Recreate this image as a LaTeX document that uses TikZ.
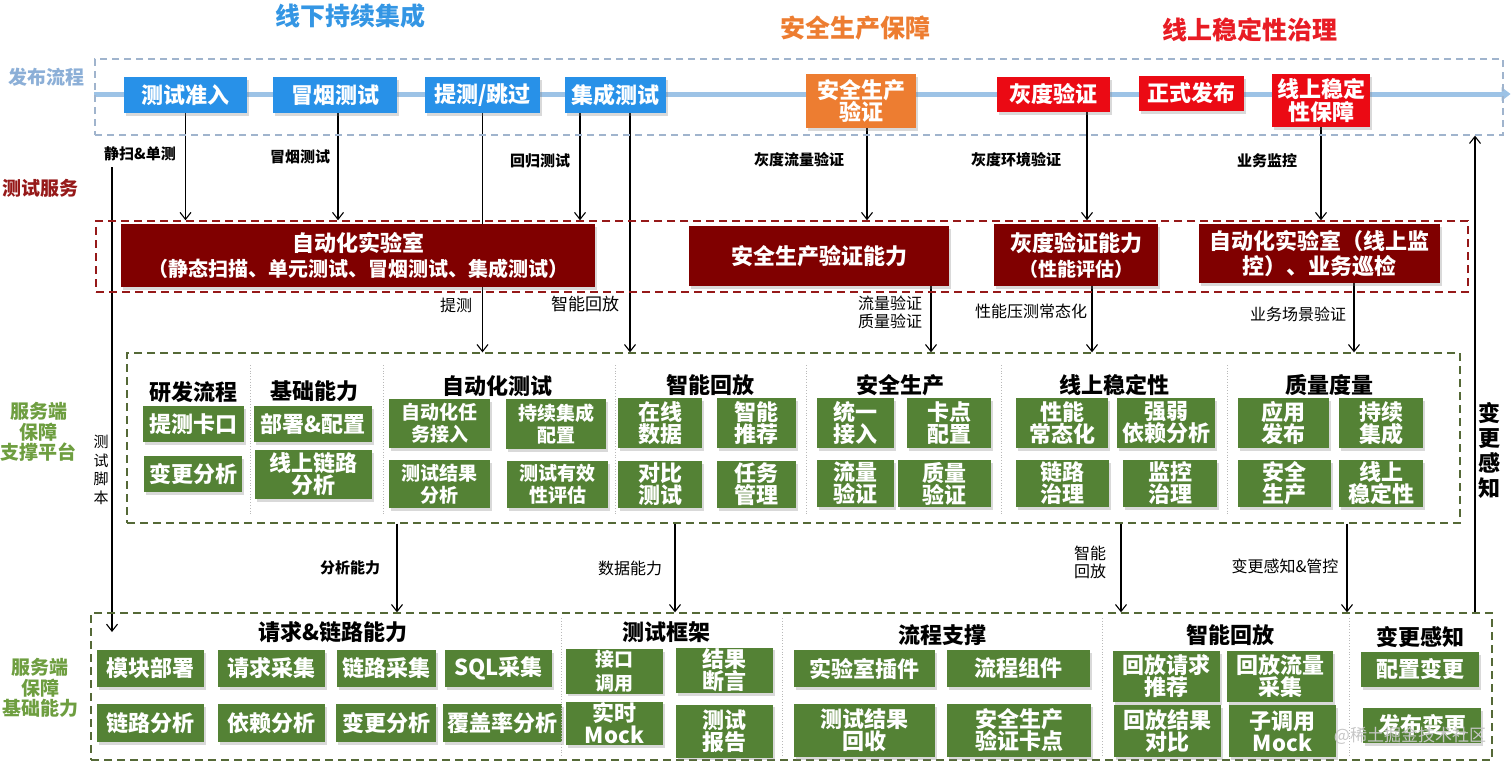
\documentclass[tikz,border=0pt]{standalone}
\usepackage{fontspec}
\setmainfont{Noto Sans CJK SC}
\usetikzlibrary{arrows.meta,shadows,backgrounds}

\definecolor{relblue}{RGB}{40,145,232}
\definecolor{safeorange}{RGB}{237,125,49}
\definecolor{onlinered}{RGB}{235,10,20}
\definecolor{labred}{RGB}{128,0,0}
\definecolor{platgreen}{RGB}{84,130,53}
\definecolor{titleblue}{RGB}{52,150,228}
\definecolor{titlered}{RGB}{232,28,36}
\definecolor{relgray}{RGB}{160,180,205}
\definecolor{relline}{RGB}{157,195,230}
\definecolor{sideblue}{RGB}{140,175,215}
\definecolor{svcred}{RGB}{150,25,25}
\definecolor{sidegreen}{RGB}{110,158,64}
\definecolor{dashgreen}{RGB}{85,105,55}

\begin{document}
\begin{tikzpicture}[x=1pt, y=-1pt,
    >={Straight Barb[length=7pt,width=11pt]},
    conn/.style={->, line width=1.1pt},
    divider/.style={gray!55, dotted, line width=0.8pt},
    boxshadow/.style={drop shadow={shadow xshift=2pt, shadow yshift=-2.5pt, opacity=0.3}},
    cbox/.style={boxshadow, text=white, inner sep=1pt, align=center},
    relnode/.style={cbox, fill=relblue, font=\fontsize{22}{22.5}\selectfont\bfseries},
    labnode/.style={cbox, fill=labred, font=\fontsize{22}{25}\selectfont\bfseries},
    gnode/.style={cbox, fill=platgreen, font=\fontsize{22}{22}\selectfont\bfseries},
    hd/.style={align=center, font=\fontsize{22}{25}\selectfont\bfseries},
    side/.style={align=center, font=\fontsize{19}{20.5}\selectfont\bfseries},
    lbl/.style={align=center, font=\fontsize{15}{17}\selectfont\bfseries},
    lbr/.style={align=center, font=\fontsize{16}{18}\selectfont},
    headline/.style={font=\fontsize{25}{27}\selectfont\bfseries}
  ]
  \useasboundingbox (0,0) rectangle (1512,768);

  % titles
  \node [headline, text=titleblue] (t1) at (350,16) {线下持续集成};
  \node [headline, text=safeorange] (t2) at (855,28) {安全生产保障};
  \node [headline, text=titlered] (t3) at (1250,30) {线上稳定性治理};

  % side labels
  \node [side, text=sideblue] (lrel) at (47,77) {发布流程};
  \node [side, text=svcred] (lsvc) at (40,188) {测试服务};
  \node [side, text=sidegreen] (lplat) at (39,432) {服务端\\保障\\支撑平台};
  \node [side, text=sidegreen] (lbase) at (40,688) {服务端\\保障\\基础能力};

  % frames
  \node [draw=relgray, dash pattern=on 7pt off 5pt, line width=1.2pt, minimum width=1408, minimum height=76] (rel) at (799,97) {};
  \node [draw=svcred, dash pattern=on 8pt off 5pt, line width=1.5pt, minimum width=1372, minimum height=71] (svc) at (782,256.5) {};
  \node [draw=dashgreen, dash pattern=on 8pt off 5pt, line width=1.3pt, minimum width=1333, minimum height=170] (plat) at (793.5,438) {};
  \node [draw=dashgreen, dash pattern=on 8pt off 5pt, line width=1.3pt, minimum width=1401, minimum height=147] (base) at (791.5,686.5) {};

  % release process
  \node [relnode, minimum width=123, minimum height=36] (tczr) at (185.5,95) {测试准入};
  \node [relnode, minimum width=124, minimum height=36] (myes) at (335,95) {冒烟测试};
  \node [relnode, minimum width=115, minimum height=36] (ttgg) at (482.5,95) {提测/跳过};
  \node [relnode, minimum width=101, minimum height=36] (jccs) at (615.5,95) {集成测试};
  \node [relnode, fill=safeorange, minimum width=110, minimum height=54] (aqyz) at (861,101) {安全生产\\验证};
  \node [relnode, fill=onlinered, minimum width=113, minimum height=35] (hdyz) at (1053.5,94.5) {灰度验证};
  \node [relnode, fill=onlinered, minimum width=105, minimum height=35] (zsfb) at (1191.5,93.5) {正式发布};
  \node [relnode, fill=onlinered, minimum width=98, minimum height=53] (xswd) at (1321,100.5) {线上稳定\\性保障};

  % test services
  \node [labnode, minimum width=474, minimum height=63] (lab1) at (358,255.5) {自动化实验室\\\fontsize{20}{22}\selectfont（静态扫描、单元测试、冒烟测试、集成测试）};
  \node [labnode, minimum width=260, minimum height=60] (aqnl) at (819,256) {安全生产验证能力};
  \node [labnode, minimum width=164, minimum height=62] (hdnl) at (1076,255) {灰度验证能力\\\fontsize{19}{21}\selectfont（性能评估）};
  \node [labnode, minimum width=241, minimum height=59] (lab2) at (1319.5,253.5) {自动化实验室（线上监\\控）、业务巡检};

  % support platform
  \node [hd] (hyf) at (193,392) {研发流程};
  \node [hd] (hjc) at (314,391) {基础能力};
  \node [hd] (hzd) at (497,386) {自动化测试};
  \node [hd] (hzn) at (710,385) {智能回放};
  \node [hd] (haq) at (900,385) {安全生产};
  \node [hd] (hxs) at (1114,385) {线上稳定性};
  \node [hd] (hzl) at (1329,385) {质量度量};

  \node [gnode, minimum width=101, minimum height=36] (tckk) at (193.5,424) {提测卡口};
  \node [gnode, minimum width=98, minimum height=36] (bgfx) at (193,474) {变更分析};
  \node [gnode, minimum width=118, minimum height=36] (bspz) at (313,424) {部署\&配置};
  \node [gnode, minimum width=117, minimum height=49] (xsll) at (313.5,474.5) {线上链路\\分析};
  \node [gnode, font=\fontsize{19}{22}\selectfont\bfseries, minimum width=101, minimum height=49] (zdrw) at (439.5,423.5) {自动化任\\务接入};
  \node [gnode, font=\fontsize{19}{22}\selectfont\bfseries, minimum width=100, minimum height=50] (cxjc) at (556,424) {持续集成\\配置};
  \node [gnode, font=\fontsize{19}{22}\selectfont\bfseries, minimum width=101, minimum height=48] (csjg) at (439.5,484) {测试结果\\分析};
  \node [gnode, font=\fontsize{19}{22}\selectfont\bfseries, minimum width=101, minimum height=47] (csyx) at (557.5,484.5) {测试有效\\性评估};
  \node [gnode, minimum width=84, minimum height=50] (zxsj) at (660,423) {在线\\数据};
  \node [gnode, minimum width=79, minimum height=50] (zntj) at (756,423) {智能\\推荐};
  \node [gnode, minimum width=84, minimum height=47] (dbcs) at (660,484.5) {对比\\测试};
  \node [gnode, minimum width=79, minimum height=47] (rwgl) at (756,484.5) {任务\\管理};
  \node [gnode, minimum width=77, minimum height=50] (tyjr) at (855.5,423) {统一\\接入};
  \node [gnode, minimum width=84, minimum height=50] (kdpz) at (949,423) {卡点\\配置};
  \node [gnode, minimum width=77, minimum height=47] (llyz) at (855.5,483.5) {流量\\验证};
  \node [gnode, minimum width=93, minimum height=47] (zlyz) at (944.5,483.5) {质量\\验证};
  \node [gnode, minimum width=92, minimum height=50] (xncz) at (1062,423) {性能\\常态化};
  \node [gnode, minimum width=98, minimum height=50] (qryl) at (1166,423) {强弱\\依赖分析};
  \node [gnode, minimum width=93, minimum height=47] (llzl) at (1062.5,483.5) {链路\\治理};
  \node [gnode, minimum width=94, minimum height=47] (jkzl) at (1170,483.5) {监控\\治理};
  \node [gnode, minimum width=91, minimum height=50] (yyfb) at (1283.5,423) {应用\\发布};
  \node [gnode, minimum width=84, minimum height=50] (cxjt) at (1381,423) {持续\\集成};
  \node [gnode, minimum width=93, minimum height=47] (aqsc) at (1284.5,483.5) {安全\\生产};
  \node [gnode, minimum width=84, minimum height=47] (xswx) at (1381,483.5) {线上\\稳定性};

  \draw [divider] (250,365) -- (250,515);
  \draw [divider] (383,365) -- (383,515);
  \draw [divider] (615,365) -- (615,515);
  \draw [divider] (806,365) -- (806,515);
  \draw [divider] (1001,365) -- (1001,515);
  \draw [divider] (1227,365) -- (1227,515);

  % base capabilities
  \node [hd] (hqq) at (333,632) {请求\&链路能力};
  \node [hd] (hkj) at (666,632) {测试框架};
  \node [hd] (hlc) at (942,635) {流程支撑};
  \node [hd] (hhf) at (1230,635) {智能回放};
  \node [hd] (hbg) at (1420,637) {变更感知};

  \node [gnode, minimum width=107, minimum height=37] (mkbs) at (150.5,668.5) {模块部署};
  \node [gnode, minimum width=107, minimum height=37] (qqcj) at (271.5,668.5) {请求采集};
  \node [gnode, minimum width=99, minimum height=37] (llcj) at (386.5,668.5) {链路采集};
  \node [gnode, minimum width=107, minimum height=37] (sqlc) at (498.5,668.5) {SQL采集};
  \node [gnode, minimum width=107, minimum height=38] (llfx) at (150.5,723) {链路分析};
  \node [gnode, minimum width=107, minimum height=38] (ylfx) at (271.5,723) {依赖分析};
  \node [gnode, minimum width=100, minimum height=38] (bgfy) at (386,723) {变更分析};
  \node [gnode, minimum width=119, minimum height=38] (fglf) at (502.5,723) {覆盖率分析};
  \node [gnode, font=\fontsize{19}{24}\selectfont\bfseries, minimum width=97, minimum height=43] (jkdy) at (614.5,671.5) {接口\\调用};
  \node [gnode, minimum width=97, minimum height=45] (jgdy) at (724.5,670.5) {结果\\断言};
  \node [gnode, minimum width=97, minimum height=37, font=\fontsize{22}{22}\selectfont\bfseries] (ssmk) at (614.5,723.5) {实时\\Mock};
  \node [gnode, minimum width=97, minimum height=53] (csbg) at (724.5,731) {测试\\报告};
  \node [gnode, minimum width=141, minimum height=37] (sycj) at (864.5,668.5) {实验室插件};
  \node [gnode, minimum width=143, minimum height=37] (lczj) at (1018.5,668.5) {流程组件};
  \node [gnode, minimum width=141, minimum height=53] (jghs) at (864.5,730.5) {测试结果\\回收};
  \node [gnode, minimum width=144, minimum height=53] (aqkd) at (1019,730.5) {安全生产\\验证卡点};
  \node [gnode, minimum width=107, minimum height=51] (hfqq) at (1166.5,676.5) {回放请求\\推荐};
  \node [gnode, minimum width=106, minimum height=51] (hfll) at (1280,676.5) {回放流量\\采集};
  \node [gnode, minimum width=107, minimum height=52] (hfjg) at (1167.5,731) {回放结果\\对比};
  \node [gnode, minimum width=107, minimum height=52] (zdmk) at (1282.5,731) {子调用\\Mock};
  \node [gnode, minimum width=118, minimum height=35] (pzbg) at (1420,669.5) {配置变更};
  \node [gnode, minimum width=118, minimum height=35] (fbbg) at (1422,725.5) {发布变更};

  \draw [divider] (561,618) -- (561,756);
  \draw [divider] (782,618) -- (782,756);
  \draw [divider] (1102,618) -- (1102,756);
  \draw [divider] (1349,618) -- (1349,756);

  \node [text=gray!45, font=\fontsize{17}{19}\selectfont] (wm) at (1410,736) {@稀土掘金技术社区};

  % connector labels
  \node [lbl] (e1) at (140,154) {静扫\&单测};
  \node [lbl] (e2) at (300,157) {冒烟测试};
  \node [lbl] (e3) at (540,161) {回归测试};
  \node [lbr] (e4) at (456,305) {提测};
  \node [lbr, font=\fontsize{17}{19}\selectfont] (e5) at (585,304) {智能回放};
  \node [lbl] (e6) at (799,160) {灰度流量验证};
  \node [lbl] (e7) at (1016,160) {灰度环境验证};
  \node [lbl] (e8) at (1267,161) {业务监控};
  \node [lbr] (e9) at (890,312) {流量验证\\质量验证};
  \node [lbr] (e10) at (1031,311) {性能压测常态化};
  \node [lbr] (e11) at (1298,314) {业务场景验证};
  \node [lbl] (e12) at (350,568) {分析能力};
  \node [lbr] (e13) at (630,568) {数据能力};
  \node [lbr] (e14) at (1090,562) {智能\\回放};
  \node [lbr] (e15) at (1285,566) {变更感知\&管控};
  \node [lbr, font=\fontsize{15}{18.5}\selectfont] (e16) at (101,470) {测\\试\\脚\\本};
  \node [hd] (e17) at (1489,450) {变\\更\\感\\知};

  \coordinate (jsA) at (112,167);
  \coordinate (jsB) at (112,632);

  \begin{scope}[on background layer]
    \draw [line width=5pt, relline, -{Triangle[length=9pt,width=13pt]}] ([yshift=3pt]rel.west) -- ([xshift=7pt,yshift=3pt]rel.east);

    \draw [conn] (tczr.south) -- (tczr.south |- svc.north);
    \draw [conn] (myes.south -| 338,0) -- (svc.north -| 338,0);
    \draw [conn] (ttgg.south) -- (ttgg.south |- plat.north);
    \draw [conn] (jccs.south -| 580,0) -- (svc.north -| 580,0);
    \draw [conn] (jccs.south -| 630,0) -- (plat.north -| 630,0);
    \draw [conn] (aqyz.south -| 867,0) -- (svc.north -| 867,0);
    \draw [conn] (hdyz.south -| 1087,0) -- (svc.north -| 1087,0);
    \draw [conn] (xswd.south) -- (xswd.south |- svc.north);

    \draw [conn] (aqnl.south -| 931,0) -- (plat.north -| 931,0);
    \draw [conn] (hdnl.south -| 1092,0) -- (plat.north -| 1092,0);
    \draw [conn] (lab2.south -| 1354,0) -- (plat.north -| 1354,0);

    \draw [conn] (plat.south -| 397,0) -- (base.north -| 397,0);
    \draw [conn] (plat.south -| 675,0) -- (base.north -| 675,0);
    \draw [conn] (plat.south -| 1121,0) -- (base.north -| 1121,0);
    \draw [conn] (plat.south -| 1347,0) -- (base.north -| 1347,0);

    \draw [conn] (jsA) -- (jsB);
    \draw [conn] (base.north -| 1475,0) -- (rel.south -| 1475,0);
  \end{scope}
\end{tikzpicture}
\end{document}
